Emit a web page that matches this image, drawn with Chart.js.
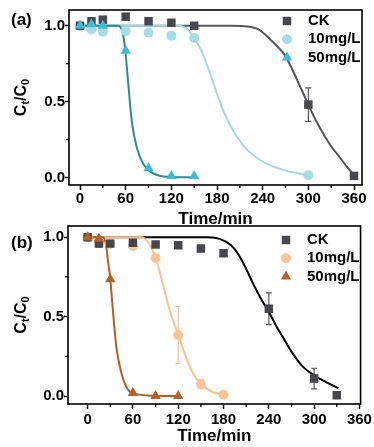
<!DOCTYPE html>
<html>
<head>
<meta charset="utf-8">
<script src="https://cdn.jsdelivr.net/npm/chart.js@4.4.1/dist/chart.umd.min.js"></script>
<style>
  html, body { margin: 0; padding: 0; background: #fff; }
  #wrap { position: relative; width: 374px; height: 447px; overflow: hidden; }
  canvas { position: absolute; left: 0; }
  #chartA { top: 0; }
  #chartB { top: 216px; }
</style>
</head>
<body>
<div id="wrap">
  <canvas id="chartA" width="374" height="230"></canvas>
  <canvas id="chartB" width="374" height="231"></canvas>
</div>
<script>
const FONT = "'Liberation Sans', Arial, Helvetica, sans-serif";

// axis ticks
const xTickVals = [0, 60, 120, 180, 240, 300, 360];
const xMinorVals = [30, 90, 150, 210, 270, 330];
const yTickVals = [0, 0.5, 1.0];
const yMinorVals = [0.25, 0.75];
const legendLabels = ['CK', '10mg/L', '50mg/L'];

// ---- panel (a): measured points
const timeA_CK = [0, 15, 30, 60, 90, 120, 150, 300, 360];
const ckA = [1.0, 1.03, 1.04, 1.06, 1.03, 1.02, 1.0, 0.48, 0.01];
const ckA_err = [0, 0, 0, 0, 0, 0, 0, 0.11, 0];
const timeA_10 = [0, 15, 30, 60, 90, 120, 150, 300];
const mg10A = [1.0, 0.975, 0.96, 0.965, 0.955, 0.935, 0.92, 0.015];
const timeA_50 = [0, 15, 30, 60, 90, 120, 150];
const mg50A = [1.0, 1.01, 1.0, 0.835, 0.06, 0.01, 0.01];

// ---- panel (a): fitted curves
const fitA_CK_t = [0, 200, 220, 235, 250, 260, 270, 280, 290, 300, 310, 320, 330, 340, 350, 360];
const fitA_CK_c = [1.0, 1.0, 0.995, 0.975, 0.91, 0.86, 0.80, 0.70, 0.59, 0.48, 0.375, 0.285, 0.205, 0.14, 0.075, 0.015];
const fitA_10_t = [0, 130, 140, 150, 160, 170, 180, 190, 200, 210, 220, 235, 250, 270, 300];
const fitA_10_c = [1.0, 1.0, 0.98, 0.92, 0.83, 0.70, 0.55, 0.42, 0.32, 0.24, 0.18, 0.12, 0.08, 0.045, 0.015];
const fitA_50_t = [0, 50, 55, 59, 63, 68, 75, 83, 92, 105, 120, 150];
const fitA_50_c = [1.0, 1.0, 0.97, 0.86, 0.64, 0.37, 0.19, 0.09, 0.04, 0.01, 0.003, 0.0];

// ---- panel (b): measured points
const timeB_CK = [0, 15, 30, 60, 90, 120, 150, 180, 240, 300, 330];
const ckB = [1.0, 0.96, 0.96, 0.965, 0.955, 0.95, 0.93, 0.90, 0.55, 0.11, 0.005];
const ckB_err = [0, 0.02, 0.02, 0, 0, 0, 0, 0, 0.10, 0.065, 0];
const timeB_10 = [0, 15, 30, 60, 90, 120, 150, 180];
const mg10B = [1.0, 0.97, 0.96, 0.945, 0.87, 0.385, 0.076, 0.008];
const mg10B_err = [0, 0, 0, 0.02, 0, 0.18, 0.03, 0];
const timeB_50 = [0, 15, 30, 60, 90, 120];
const mg50B = [1.0, 0.99, 0.735, 0.02, 0.0, 0.0];

// ---- panel (b): fitted curves
const fitB_CK_t = [0, 160, 175, 190, 200, 210, 220, 230, 240, 250, 260, 270, 285, 300, 315, 332];
const fitB_CK_c = [1.0, 1.0, 0.99, 0.95, 0.89, 0.80, 0.70, 0.61, 0.53, 0.44, 0.36, 0.28, 0.185, 0.13, 0.09, 0.05];
const fitB_10_t = [0, 70, 80, 90, 100, 110, 120, 130, 140, 150, 165, 180];
const fitB_10_c = [1.0, 1.0, 0.97, 0.87, 0.70, 0.52, 0.385, 0.25, 0.14, 0.076, 0.027, 0.008];
const fitB_50_t = [0, 20, 24, 27, 30, 34, 38, 45, 51, 60, 90, 120];
const fitB_50_c = [1.0, 1.0, 0.96, 0.85, 0.735, 0.51, 0.31, 0.14, 0.06, 0.017, 0.002, 0.0];

const pts = (xs, ys) => xs.map((x, i) => ({ x, y: ys[i] }));

function pointSet(label, xs, ys, style, color, r, order, errs, errColor) {
  return {
    label, data: pts(xs, ys), pointStyle: style, pointRadius: r, pointHoverRadius: r,
    backgroundColor: color, borderColor: color, borderWidth: 0, showLine: false,
    order, errors: errs, errorColor: errColor
  };
}
function curveSet(xs, ys, color, order) {
  return {
    data: pts(xs, ys), showLine: true, borderColor: color, borderWidth: 2,
    pointRadius: 0, pointHoverRadius: 0, fill: false, cubicInterpolationMode: 'monotone', order
  };
}

function drawMarker(ctx, style, x, y, r) {
  ctx.beginPath();
  if (style === 'rect') {
    const s = r * Math.SQRT1_2;
    ctx.rect(x - s, y - s, 2 * s, 2 * s);
  } else if (style === 'triangle') {
    for (let k = 0; k < 3; k++) {
      const a = -Math.PI / 2 + k * 2 * Math.PI / 3;
      const px = x + r * Math.cos(a), py = y + r * Math.sin(a);
      k ? ctx.lineTo(px, py) : ctx.moveTo(px, py);
    }
    ctx.closePath();
  } else {
    ctx.arc(x, y, r, 0, Math.PI * 2);
  }
  ctx.fill();
}

function drawYTitle(ctx, cx, cy) {
  const big = `bold 16px ${FONT}`, small = `bold 11px ${FONT}`;
  const parts = [['C', big, 0], ['t', small, 4], ['/C', big, 0], ['0', small, 4]];
  ctx.save();
  ctx.translate(cx, cy);
  ctx.rotate(-Math.PI / 2);
  let w = 0;
  parts.forEach(p => { ctx.font = p[1]; w += ctx.measureText(p[0]).width; });
  let x = -w / 2;
  ctx.textBaseline = 'middle';
  ctx.textAlign = 'left';
  ctx.fillStyle = '#000';
  parts.forEach(p => { ctx.font = p[1]; ctx.fillText(p[0], x, p[2]); x += ctx.measureText(p[0]).width; });
  ctx.restore();
}

const decor = {
  id: 'decor',
  beforeDatasetsDraw(chart) {
    const { ctx, scales: { x, y } } = chart;
    chart.data.datasets.forEach(ds => {
      if (!ds.errors) return;
      ctx.save();
      ctx.strokeStyle = ds.errorColor;
      ctx.lineWidth = 1.2;
      ds.data.forEach((p, i) => {
        const e = ds.errors[i];
        if (!e) return;
        const px = x.getPixelForValue(p.x);
        const y1 = y.getPixelForValue(p.y + e), y2 = y.getPixelForValue(p.y - e);
        ctx.beginPath();
        ctx.moveTo(px, y1); ctx.lineTo(px, y2);
        ctx.moveTo(px - 3, y1); ctx.lineTo(px + 3, y1);
        ctx.moveTo(px - 3, y2); ctx.lineTo(px + 3, y2);
        ctx.stroke();
      });
      ctx.restore();
    });
  },
  afterDraw(chart, args, opts) {
    const { ctx, chartArea: a, scales: { x, y } } = chart;
    ctx.save();
    // frame
    ctx.strokeStyle = '#000';
    ctx.lineWidth = 1.6;
    ctx.strokeRect(a.left, a.top, a.right - a.left, a.bottom - a.top);
    // minor ticks
    ctx.lineWidth = 1.3;
    ctx.beginPath();
    xMinorVals.forEach(v => {
      const px = x.getPixelForValue(v);
      ctx.moveTo(px, a.bottom); ctx.lineTo(px, a.bottom + 3);
    });
    yMinorVals.forEach(v => {
      const py = y.getPixelForValue(v);
      ctx.moveTo(a.left, py); ctx.lineTo(a.left - 3, py);
    });
    ctx.stroke();
    // y title
    drawYTitle(ctx, 22, (a.top + a.bottom) / 2);
    // panel label
    ctx.fillStyle = '#000';
    ctx.font = `bold 17px ${FONT}`;
    ctx.textBaseline = 'middle';
    ctx.textAlign = 'left';
    ctx.fillText(opts.label, 11, opts.labelY);
    // legend
    const marks = chart.data.datasets.filter(ds => ds.label);
    ctx.font = `bold 15px ${FONT}`;
    marks.forEach((ds, i) => {
      const ly = opts.legendY + i * opts.legendDy;
      ctx.fillStyle = ds.backgroundColor;
      drawMarker(ctx, ds.pointStyle, opts.legendX, ly, ds.pointRadius);
      ctx.fillStyle = '#000';
      ctx.fillText(ds.label, opts.legendX + 21, ly);
    });
    ctx.restore();
  }
};

function makeScales(xMin, xMax, yMin, yMax, yW, xH, xPad) {
  const tickFont = { family: FONT, size: 15, weight: 'bold' };
  return {
    x: {
      type: 'linear', min: xMin, max: xMax,
      afterBuildTicks: s => { s.ticks = xTickVals.map(v => ({ value: v })); },
      afterFit: s => { s.height = xH; },
      ticks: { font: tickFont, color: '#000', padding: xPad, maxRotation: 0, autoSkip: false, callback: v => String(v) },
      grid: { drawOnChartArea: false, drawTicks: true, tickLength: 5, tickWidth: 1.5, tickColor: '#000' },
      border: { display: false },
      title: { display: true, text: 'Time/min', color: '#000', font: { family: FONT, size: 17, weight: 'bold' }, padding: { top: 0, bottom: 0 } }
    },
    y: {
      type: 'linear', min: yMin, max: yMax,
      afterBuildTicks: s => { s.ticks = yTickVals.map(v => ({ value: v })); },
      afterFit: s => { s.width = yW; },
      ticks: { font: tickFont, color: '#000', padding: 0, callback: v => v.toFixed(1) },
      grid: { drawOnChartArea: false, drawTicks: true, tickLength: 4, tickWidth: 1.5, tickColor: '#000' },
      border: { display: false }
    }
  };
}

function baseOptions(scales, decorOpts) {
  return {
    responsive: false, animation: false, devicePixelRatio: 1,
    layout: { padding: { top: 10, right: 12, left: 0, bottom: 0 } },
    scales,
    plugins: { legend: { display: false }, tooltip: { enabled: false }, decor: decorOpts }
  };
}

new Chart(document.getElementById('chartA'), {
  type: 'scatter',
  data: {
    datasets: [
      pointSet(legendLabels[0], timeA_CK, ckA, 'rect', '#48484e', 6, 1, ckA_err, '#55555a'),
      pointSet(legendLabels[1], timeA_10, mg10A, 'circle', '#a6dce6', 5, 2),
      pointSet(legendLabels[2], timeA_50, mg50A, 'triangle', '#3bbcd0', 6, 0),
      curveSet(fitA_CK_t, fitA_CK_c, '#55555a', 5),
      curveSet(fitA_10_t, fitA_10_c, '#a3d9e3', 4),
      curveSet(fitA_50_t, fitA_50_c, '#2b8b97', 3)
    ]
  },
  options: baseOptions(makeScales(-14.5, 370.5, -0.05, 1.104, 69, 45, 0),
    { label: '(a)', labelY: 20, legendX: 287, legendY: 21, legendDy: 18.3 }),
  plugins: [decor]
});

new Chart(document.getElementById('chartB'), {
  type: 'scatter',
  data: {
    datasets: [
      pointSet(legendLabels[0], timeB_CK, ckB, 'rect', '#46474c', 6, 1, ckB_err, '#55555a'),
      pointSet(legendLabels[1], timeB_10, mg10B, 'circle', '#fcc394', 5, 2, mg10B_err, '#fbc18f'),
      pointSet(legendLabels[2], timeB_50, mg50B, 'triangle', '#b5622a', 6, 0),
      curveSet(fitB_CK_t, fitB_CK_c, '#000000', 5),
      curveSet(fitB_10_t, fitB_10_c, '#fbc18f', 4),
      curveSet(fitB_50_t, fitB_50_c, '#b35e25', 3)
    ]
  },
  options: baseOptions(makeScales(-26, 361.5, -0.05, 1.071, 68, 43, 2),
    { label: '(b)', labelY: 27.5, legendX: 286, legendY: 24, legendDy: 18.3 }),
  plugins: [decor]
});
</script>
</body>
</html>
